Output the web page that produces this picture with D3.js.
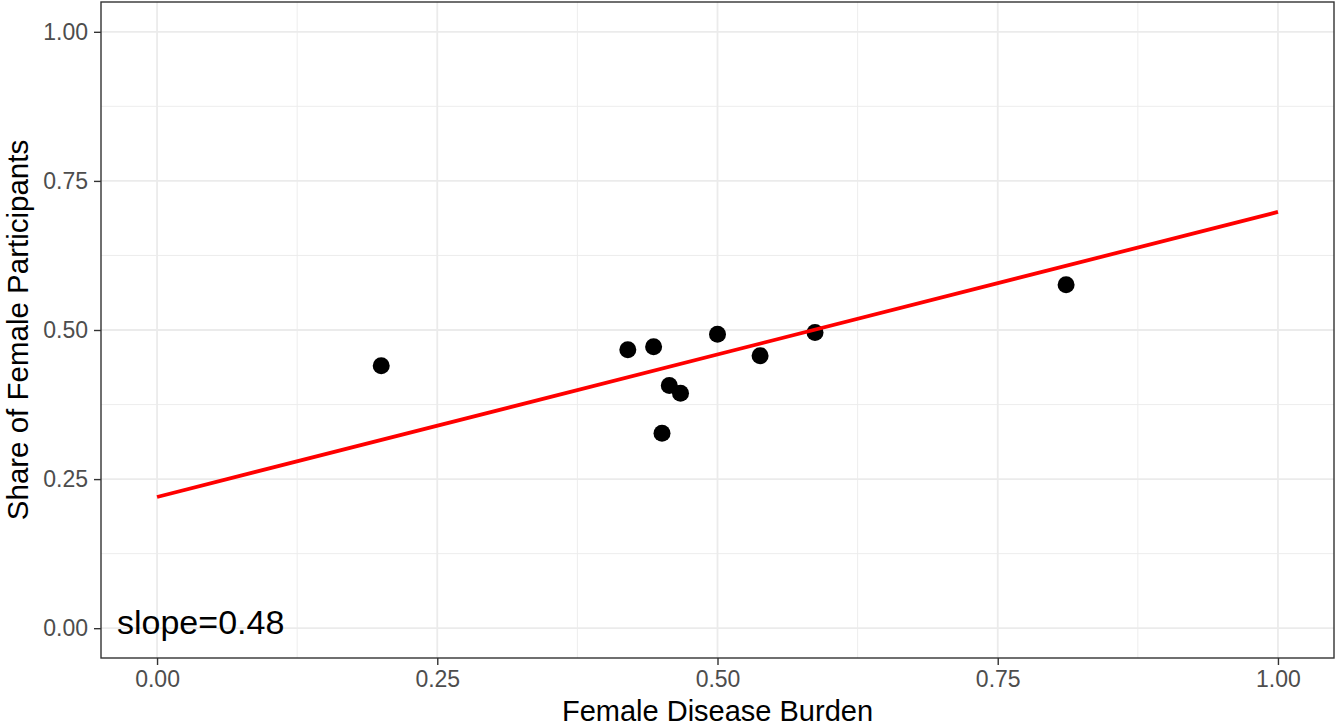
<!DOCTYPE html>
<html><head><meta charset="utf-8">
<script src="https://cdn.jsdelivr.net/npm/d3@7"></script>
<style>body{margin:0;background:#fff}svg{display:block}</style>
</head><body>
<svg id="c" width="1335" height="727"></svg>
<script>
const burden = [0.20, 0.42, 0.443, 0.4505, 0.457, 0.467, 0.50, 0.538, 0.587, 0.811];
const share  = [0.44, 0.467, 0.472, 0.327, 0.407, 0.394, 0.493, 0.457, 0.496, 0.576];
const fitX = [0, 1];
const fitY = [0.22, 0.698];
const ticks = [0, 0.25, 0.5, 0.75, 1];
const minorTicks = [0.125, 0.375, 0.625, 0.875];
const slopeLabel = "slope=0.48";

const FONT = "Liberation Sans, Arial, sans-serif";
const svg = d3.select("#c");
const L = 101, R = 1334, T = 2, B = 658;
const x = d3.scaleLinear().domain([-0.05, 1.05]).range([L, R]);
const y = d3.scaleLinear().domain([-0.05, 1.05]).range([B, T]);

const g = svg.append("g");
g.selectAll(".minx").data(minorTicks).join("line")
  .attr("x1", d => x(d)).attr("x2", d => x(d)).attr("y1", T).attr("y2", B)
  .attr("stroke", "#ebebeb").attr("stroke-width", 0.9);
g.selectAll(".miny").data(minorTicks).join("line")
  .attr("y1", d => y(d)).attr("y2", d => y(d)).attr("x1", L).attr("x2", R)
  .attr("stroke", "#ebebeb").attr("stroke-width", 0.9);
g.selectAll(".majx").data(ticks).join("line")
  .attr("x1", d => x(d)).attr("x2", d => x(d)).attr("y1", T).attr("y2", B)
  .attr("stroke", "#ebebeb").attr("stroke-width", 1.8);
g.selectAll(".majy").data(ticks).join("line")
  .attr("y1", d => y(d)).attr("y2", d => y(d)).attr("x1", L).attr("x2", R)
  .attr("stroke", "#ebebeb").attr("stroke-width", 1.8);

// points
svg.selectAll(".pt").data(burden.map((b, i) => [b, share[i]])).join("circle")
  .attr("cx", d => x(d[0])).attr("cy", d => y(d[1])).attr("r", 8.5).attr("fill", "#000");

// fit line
svg.append("path").datum(fitX.map((v, i) => [v, fitY[i]]))
  .attr("d", d3.line().x(d => x(d[0])).y(d => y(d[1])))
  .attr("stroke", "#ff0000").attr("stroke-width", 3.8).attr("fill", "none");

svg.append("text").attr("x", 117).attr("y", 634).text(slopeLabel)
  .attr("font-family", FONT).attr("font-size", 34).attr("fill", "#000");

// border
svg.append("rect").attr("x", L).attr("y", T).attr("width", R - L).attr("height", B - T)
  .attr("fill", "none").attr("stroke", "#333333").attr("stroke-width", 1.4);

const fmt = d3.format(".2f");
const xa = svg.append("g").attr("transform", `translate(0,${B})`)
  .call(d3.axisBottom(x).tickValues(ticks).tickFormat(fmt).tickSize(7).tickPadding(6));
const ya = svg.append("g").attr("transform", `translate(${L},0)`)
  .call(d3.axisLeft(y).tickValues(ticks).tickFormat(fmt).tickSize(7).tickPadding(6));
[xa, ya].forEach(a => {
  a.select(".domain").remove();
  a.selectAll("line").attr("stroke", "#333333").attr("stroke-width", 1.4);
  a.selectAll("text").attr("font-family", FONT)
    .attr("font-size", 23).attr("fill", "#4d4d4d");
});

svg.append("text").attr("x", (L + R) / 2).attr("y", 721).attr("text-anchor", "middle")
  .attr("font-family", FONT).attr("font-size", 29).attr("fill", "#000")
  .text("Female Disease Burden");
svg.append("text").attr("transform", `translate(28,${(T + B) / 2}) rotate(-90)`).attr("text-anchor", "middle")
  .attr("font-family", FONT).attr("font-size", 29.5).attr("fill", "#000")
  .text("Share of Female Participants");
</script>
</body></html>
